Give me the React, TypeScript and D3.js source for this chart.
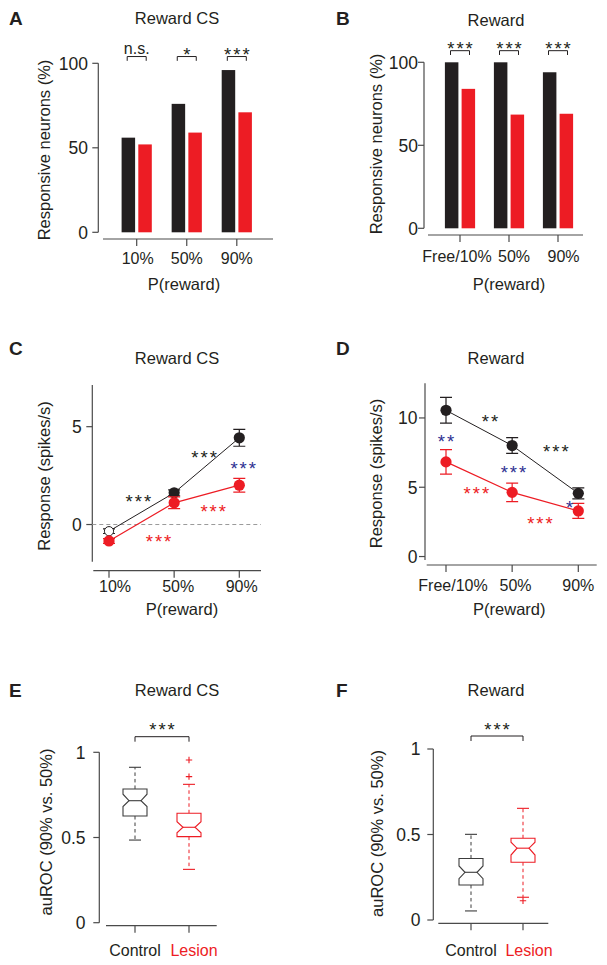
import React from "react";
import * as d3 from "d3";

// ---------------- data ----------------
const probCats = ["10%", "50%", "90%"];
const rewardCats = ["Free/10%", "50%", "90%"];
const pctTicks = [0, 50, 100];

// A: Reward CS, responsive neurons (%)
const aControl = [56, 76, 96];
const aLesion = [52, 59, 71];
const aSig = ["n.s.", "*", "***"];

// B: Reward, responsive neurons (%)
const bControl = [100, 100, 94];
const bLesion = [84, 68.5, 69];
const bSig = ["***", "***", "***"];

// C: Reward CS response (spikes/s)
const cTicks = [0, 5];
const cControl = [-0.34, 1.62, 4.43];
const cControlErr = [0.12, 0.15, 0.43];
const cControlFilled = [false, true, true];
const cLesion = [-0.84, 1.11, 2.01];
const cLesionErr = [0.12, 0.3, 0.35];
const cSigPos = [0.45, 1.46, 2.06, 1.6, 0.76];
const cSigVal = [1.41, 3.64, 3.12, 0.9, -0.64];
const cSigText = ["***", "***", "***", "***", "***"];
const cSigGroup = ["control", "control", "diff", "lesion", "lesion"];

// D: Reward response (spikes/s)
const dTicks = [0, 5, 10];
const dControl = [10.55, 8.01, 4.56];
const dControlErr = [0.93, 0.57, 0.4];
const dLesion = [6.83, 4.63, 3.29];
const dLesionErr = [0.88, 0.67, 0.54];
const dSigPos = [0.665, 1.66, 0.0, 1.02, 0.46, 1.42, 1.87];
const dSigVal = [10.07, 7.91, 8.63, 6.43, 4.85, 2.71, 3.88];
const dSigText = ["**", "***", "**", "***", "***", "***", "*"];
const dSigGroup = ["control", "control", "diff", "diff", "lesion", "lesion", "diff"];

// E/F: auROC boxplots
const boxGroups = ["Control", "Lesion"];
const rocTicks = [0, 0.5, 1];
// [low whisker, q1, median, q3, high whisker, notch low, notch high]
const eControlStats = [0.485, 0.626, 0.716, 0.785, 0.912, 0.682, 0.754];
const eLesionStats = [0.313, 0.505, 0.56, 0.642, 0.812, 0.528, 0.593];
const eControlOut: number[] = [];
const eLesionOut = [0.955, 0.857];
const fControlStats = [0.053, 0.205, 0.279, 0.36, 0.501, 0.242, 0.316];
const fLesionStats = [0.133, 0.338, 0.42, 0.478, 0.653, 0.38, 0.455];
const fControlOut: number[] = [];
const fLesionOut = [0.113];

// ---------------- style ----------------
const BLACK = "#231f20";
const RED = "#ed1c24";
const BLUE = "#2e3192";
const AXIS = "#4a4a4a";
const TEXT = "#231f20";
const FONT = "'Liberation Sans', Arial, Helvetica, sans-serif";
const groupColor: Record<string, string> = { control: BLACK, lesion: RED, diff: BLUE };

function Sig({ x, cy, text, color }: { x: number; cy: number; text: string; color: string }) {
  const isStar = /^\*+$/.test(text);
  const fs = isStar ? 18.5 : 16;
  const ls = isStar ? 2 : 0;
  const off = isStar ? 0.6 * fs : 0.26 * fs;
  return (
    <text
      x={x + ls / 2}
      y={cy + off}
      textAnchor="middle"
      fontSize={fs}
      letterSpacing={ls}
      fill={color}
    >
      {text}
    </text>
  );
}

type AxesProps = {
  y: d3.ScaleLinear<number, number>;
  ticks: number[];
  axisX: number;
  labelRight: number;
  x: d3.ScalePoint<string>;
  labelDx: number[];
  labelColors?: string[];
  xAxisY: number;
  xAxisL: number;
  xAxisR: number;
  labelBase: number;
  yTitle: string;
  yTitleX: number;
  yTitleY: number;
  xTitle?: string;
  xTitleX?: number;
  xTitleY?: number;
  letter: string;
  letterX: number;
  letterY: number;
  title: string;
  titleX: number;
  titleY: number;
};

function Axes(p: AxesProps) {
  const [r0, r1] = p.y.range();
  return (
    <g>
      <text x={p.letterX} y={p.letterY} fontSize={19} fontWeight="bold" fill={TEXT}>
        {p.letter}
      </text>
      <text x={p.titleX} y={p.titleY} fontSize={16.5} textAnchor="middle" fill={TEXT}>
        {p.title}
      </text>
      <line x1={p.axisX} x2={p.axisX} y1={r0} y2={r1} stroke={AXIS} strokeWidth={1.2} />
      {p.ticks.map((t) => (
        <g key={t}>
          <line x1={p.axisX - 6} x2={p.axisX} y1={p.y(t)} y2={p.y(t)} stroke={AXIS} strokeWidth={1.2} />
          <text x={p.labelRight} y={p.y(t)} dy="0.36em" textAnchor="end" fontSize={17.5} fill={TEXT}>
            {t}
          </text>
        </g>
      ))}
      <line x1={p.xAxisL} x2={p.xAxisR} y1={p.xAxisY} y2={p.xAxisY} stroke={AXIS} strokeWidth={1.2} />
      {p.x.domain().map((c, i) => (
        <g key={c}>
          <line x1={p.x(c)!} x2={p.x(c)!} y1={p.xAxisY} y2={p.xAxisY + 7} stroke={AXIS} strokeWidth={1.2} />
          <text
            x={p.x(c)! + p.labelDx[i]}
            y={p.xAxisY + p.labelBase}
            textAnchor="middle"
            fontSize={16}
            fill={p.labelColors ? p.labelColors[i] : TEXT}
          >
            {c}
          </text>
        </g>
      ))}
      <text
        transform={`translate(${p.yTitleX},${p.yTitleY}) rotate(-90)`}
        textAnchor="middle"
        dominantBaseline="central"
        fontSize={16.5}
        fill={TEXT}
      >
        {p.yTitle}
      </text>
      {p.xTitle && (
        <text x={p.xTitleX} y={p.xTitleY} textAnchor="middle" fontSize={16.5} fill={TEXT}>
          {p.xTitle}
        </text>
      )}
    </g>
  );
}

function BarPanel(props: {
  cats: string[];
  control: number[];
  lesion: number[];
  sig: string[];
  yRange: [number, number];
  xRange: [number, number];
  bracketLevel: number;
  axes: Omit<AxesProps, "y" | "x" | "ticks">;
}) {
  const y = d3.scaleLinear().domain([0, 100]).range(props.yRange);
  const x = d3.scalePoint<string>().domain(props.cats).range(props.xRange);
  const bw = 13.5;
  const gap = 1.6;
  const by = y(props.bracketLevel);
  return (
    <g>
      <Axes {...props.axes} y={y} x={x} ticks={pctTicks} />
      {props.cats.map((c, i) => {
        const cx = x(c)!;
        return (
          <g key={c}>
            <rect x={cx - gap - bw} y={y(props.control[i])} width={bw} height={y(0) - y(props.control[i])} fill={BLACK} />
            <rect x={cx + gap} y={y(props.lesion[i])} width={bw} height={y(0) - y(props.lesion[i])} fill={RED} />
            <path
              d={`M${cx - 9.5},${by + 4.3}V${by}H${cx + 9.5}V${by + 4.3}`}
              fill="none"
              stroke={BLACK}
              strokeWidth={1}
            />
            <Sig x={cx} cy={by - 6.5} text={props.sig[i]} color={BLACK} />
          </g>
        );
      })}
    </g>
  );
}

function LinePanel(props: {
  cats: string[];
  domain: [number, number];
  yRange: [number, number];
  xRange: [number, number];
  ticks: number[];
  control: number[];
  controlErr: number[];
  controlFilled: boolean[];
  lesion: number[];
  lesionErr: number[];
  sigPos: number[];
  sigVal: number[];
  sigText: string[];
  sigGroup: string[];
  zeroLine: boolean;
  axes: Omit<AxesProps, "y" | "x" | "ticks">;
}) {
  const y = d3.scaleLinear().domain(props.domain).range(props.yRange);
  const x = d3.scalePoint<string>().domain(props.cats).range(props.xRange);
  const fx = (i: number) => x(props.cats[0])! + i * x.step();
  const line = d3
    .line<number>()
    .x((_, i) => x(props.cats[i])!)
    .y((v) => y(v));
  const series = [
    { vals: props.control, err: props.controlErr, color: BLACK, filled: props.controlFilled, lw: 1 },
    { vals: props.lesion, err: props.lesionErr, color: RED, filled: props.cats.map(() => true), lw: 1.2 },
  ];
  return (
    <g>
      <Axes {...props.axes} y={y} x={x} ticks={props.ticks} />
      {props.zeroLine && (
        <line
          x1={props.axes.axisX}
          x2={props.axes.xAxisR}
          y1={y(0)}
          y2={y(0)}
          stroke="#9a9a9a"
          strokeWidth={1}
          strokeDasharray="4,3"
        />
      )}
      {series.map((s, si) => (
        <g key={si}>
          <path d={line(s.vals)!} fill="none" stroke={s.color} strokeWidth={s.lw} />
          {s.vals.map((v, i) => {
            const cx = x(props.cats[i])!;
            const t = y(v + s.err[i]);
            const b = y(v - s.err[i]);
            return (
              <g key={i}>
                <path
                  d={`M${cx},${t}V${b}M${cx - 6},${t}H${cx + 6}M${cx - 6},${b}H${cx + 6}`}
                  stroke={s.color}
                  strokeWidth={1.2}
                  fill="none"
                />
                {s.filled[i] ? (
                  <circle cx={cx} cy={y(v)} r={5.6} fill={s.color} />
                ) : (
                  <circle cx={cx} cy={y(v)} r={4.6} fill="white" stroke={s.color} strokeWidth={1} />
                )}
              </g>
            );
          })}
        </g>
      ))}
      {props.sigText.map((t, i) => (
        <Sig key={i} x={fx(props.sigPos[i])} cy={y(props.sigVal[i])} text={t} color={groupColor[props.sigGroup[i]]} />
      ))}
    </g>
  );
}

function BoxPanel(props: {
  yRange: [number, number];
  xRange: [number, number];
  stats: number[][];
  outliers: number[][];
  bracketY: number;
  axes: Omit<AxesProps, "y" | "x" | "ticks">;
}) {
  const y = d3.scaleLinear().domain([0, 1]).range(props.yRange);
  const x = d3.scalePoint<string>().domain(boxGroups).range(props.xRange);
  const colors = ["#3c3c3c", RED];
  const x0 = x(boxGroups[0])!;
  const x1 = x(boxGroups[1])!;
  return (
    <g>
      <Axes {...props.axes} y={y} x={x} ticks={rocTicks} labelColors={[TEXT, RED]} />
      <path
        d={`M${x0},${props.bracketY + 5}V${props.bracketY}H${x1}V${props.bracketY + 5}`}
        fill="none"
        stroke={BLACK}
        strokeWidth={1}
      />
      <Sig x={(x0 + x1) / 2} cy={props.bracketY - 11.5} text="***" color={BLACK} />
      {boxGroups.map((g, gi) => {
        const [lo, q1, med, q3, hi, nlo, nhi] = props.stats[gi];
        const c = x(g)!;
        const w = 12;
        const n = 6;
        const col = colors[gi];
        const box = `M${c - w},${y(q1)}V${y(nlo)}L${c - n},${y(med)}L${c - w},${y(nhi)}V${y(q3)}H${c + w}V${y(nhi)}L${c + n},${y(med)}L${c + w},${y(nlo)}V${y(q1)}Z`;
        return (
          <g key={g}>
            <line x1={c} x2={c} y1={y(q3)} y2={y(hi)} stroke={col} strokeWidth={1} strokeDasharray="3.5,3" />
            <line x1={c} x2={c} y1={y(q1)} y2={y(lo)} stroke={col} strokeWidth={1} strokeDasharray="3.5,3" />
            <line x1={c - 6} x2={c + 6} y1={y(hi)} y2={y(hi)} stroke={col} strokeWidth={1.1} />
            <line x1={c - 6} x2={c + 6} y1={y(lo)} y2={y(lo)} stroke={col} strokeWidth={1.1} />
            <path d={box} fill="white" stroke={col} strokeWidth={1.1} />
            <line x1={c - n} x2={c + n} y1={y(med)} y2={y(med)} stroke={col} strokeWidth={1.1} />
            {props.outliers[gi].map((o, oi) => (
              <path
                key={oi}
                d={`M${c - 3.2},${y(o)}H${c + 3.2}M${c},${y(o) - 3.2}V${y(o) + 3.2}`}
                stroke={col}
                strokeWidth={1.1}
              />
            ))}
          </g>
        );
      })}
    </g>
  );
}

export default function App() {
  return (
    <svg
      width={607}
      height={965}
      style={{ position: "absolute", left: 0, top: 0, fontFamily: FONT }}
    >
      <rect width={607} height={965} fill="white" />
      <BarPanel
        cats={probCats}
        control={aControl}
        lesion={aLesion}
        sig={aSig}
        yRange={[232.3, 63.3]}
        xRange={[136.7, 236.8]}
        bracketLevel={104}
        axes={{
          axisX: 98.3, labelRight: 88, labelDx: [1, 0, 0], xAxisY: 239, xAxisL: 103, xAxisR: 273, labelBase: 24.5,
          yTitle: "Responsive neurons (%)", yTitleX: 43.5, yTitleY: 150,
          xTitle: "P(reward)", xTitleX: 184, xTitleY: 290,
          letter: "A", letterX: 9, letterY: 24.5, title: "Reward CS", titleX: 177, titleY: 24,
        }}
      />
      <BarPanel
        cats={rewardCats}
        control={bControl}
        lesion={bLesion}
        sig={bSig}
        yRange={[228.3, 62.3]}
        xRange={[460, 558]}
        bracketLevel={107}
        axes={{
          axisX: 424, labelRight: 418, labelDx: [-3, 5, 5.5], xAxisY: 235, xAxisL: 428, xAxisR: 583, labelBase: 26.5,
          yTitle: "Responsive neurons (%)", yTitleX: 376, yTitleY: 144,
          xTitle: "P(reward)", xTitleX: 509, xTitleY: 290,
          letter: "B", letterX: 336, letterY: 25, title: "Reward", titleX: 496, titleY: 25.5,
        }}
      />
      <LinePanel
        cats={probCats}
        domain={[-1.9, 7.13]}
        yRange={[561.7, 385]}
        xRange={[109, 239.3]}
        ticks={cTicks}
        control={cControl}
        controlErr={cControlErr}
        controlFilled={cControlFilled}
        lesion={cLesion}
        lesionErr={cLesionErr}
        sigPos={cSigPos}
        sigVal={cSigVal}
        sigText={cSigText}
        sigGroup={cSigGroup}
        zeroLine={true}
        axes={{
          axisX: 92.3, labelRight: 81.7, labelDx: [6, 4, 2.4], xAxisY: 570.7, xAxisL: 93.3, xAxisR: 261, labelBase: 21,
          yTitle: "Response (spikes/s)", yTitleX: 44, yTitleY: 476,
          xTitle: "P(reward)", xTitleX: 182, xTitleY: 615,
          letter: "C", letterX: 9, letterY: 355, title: "Reward CS", titleX: 177, titleY: 364,
        }}
      />
      <LinePanel
        cats={rewardCats}
        domain={[-0.25, 12.5]}
        yRange={[560, 383.3]}
        xRange={[446, 578.3]}
        ticks={dTicks}
        control={dControl}
        controlErr={dControlErr}
        controlFilled={[true, true, true]}
        lesion={dLesion}
        lesionErr={dLesionErr}
        sigPos={dSigPos}
        sigVal={dSigVal}
        sigText={dSigText}
        sigGroup={dSigGroup}
        zeroLine={false}
        axes={{
          axisX: 425, labelRight: 417.5, labelDx: [7, 3.4, 0], xAxisY: 565, xAxisL: 426.7, xAxisR: 596.7, labelBase: 25.7,
          yTitle: "Response (spikes/s)", yTitleX: 376, yTitleY: 473.5,
          xTitle: "P(reward)", xTitleX: 509.3, xTitleY: 615,
          letter: "D", letterX: 336, letterY: 355, title: "Reward", titleX: 496, titleY: 364,
        }}
      />
      <BoxPanel
        yRange={[922.7, 752.3]}
        xRange={[135, 189]}
        stats={[eControlStats, eLesionStats]}
        outliers={[eControlOut, eLesionOut]}
        bracketY={736.7}
        axes={{
          axisX: 99.3, labelRight: 85.5, labelDx: [0, 5], xAxisY: 925.7, xAxisL: 106, xAxisR: 216.7, labelBase: 30.3,
          yTitle: "auROC (90% vs. 50%)", yTitleX: 46, yTitleY: 832,
          letter: "E", letterX: 9, letterY: 697, title: "Reward CS", titleX: 177, titleY: 696,
        }}
      />
      <BoxPanel
        yRange={[920, 749]}
        xRange={[471, 523]}
        stats={[fControlStats, fLesionStats]}
        outliers={[fControlOut, fLesionOut]}
        bracketY={736}
        axes={{
          axisX: 433.3, labelRight: 420.5, labelDx: [0, 6], xAxisY: 923.3, xAxisL: 438.3, xAxisR: 548.3, labelBase: 32.7,
          yTitle: "auROC (90% vs. 50%)", yTitleX: 377, yTitleY: 833.5,
          letter: "F", letterX: 336, letterY: 697, title: "Reward", titleX: 496, titleY: 696,
        }}
      />
    </svg>
  );
}
